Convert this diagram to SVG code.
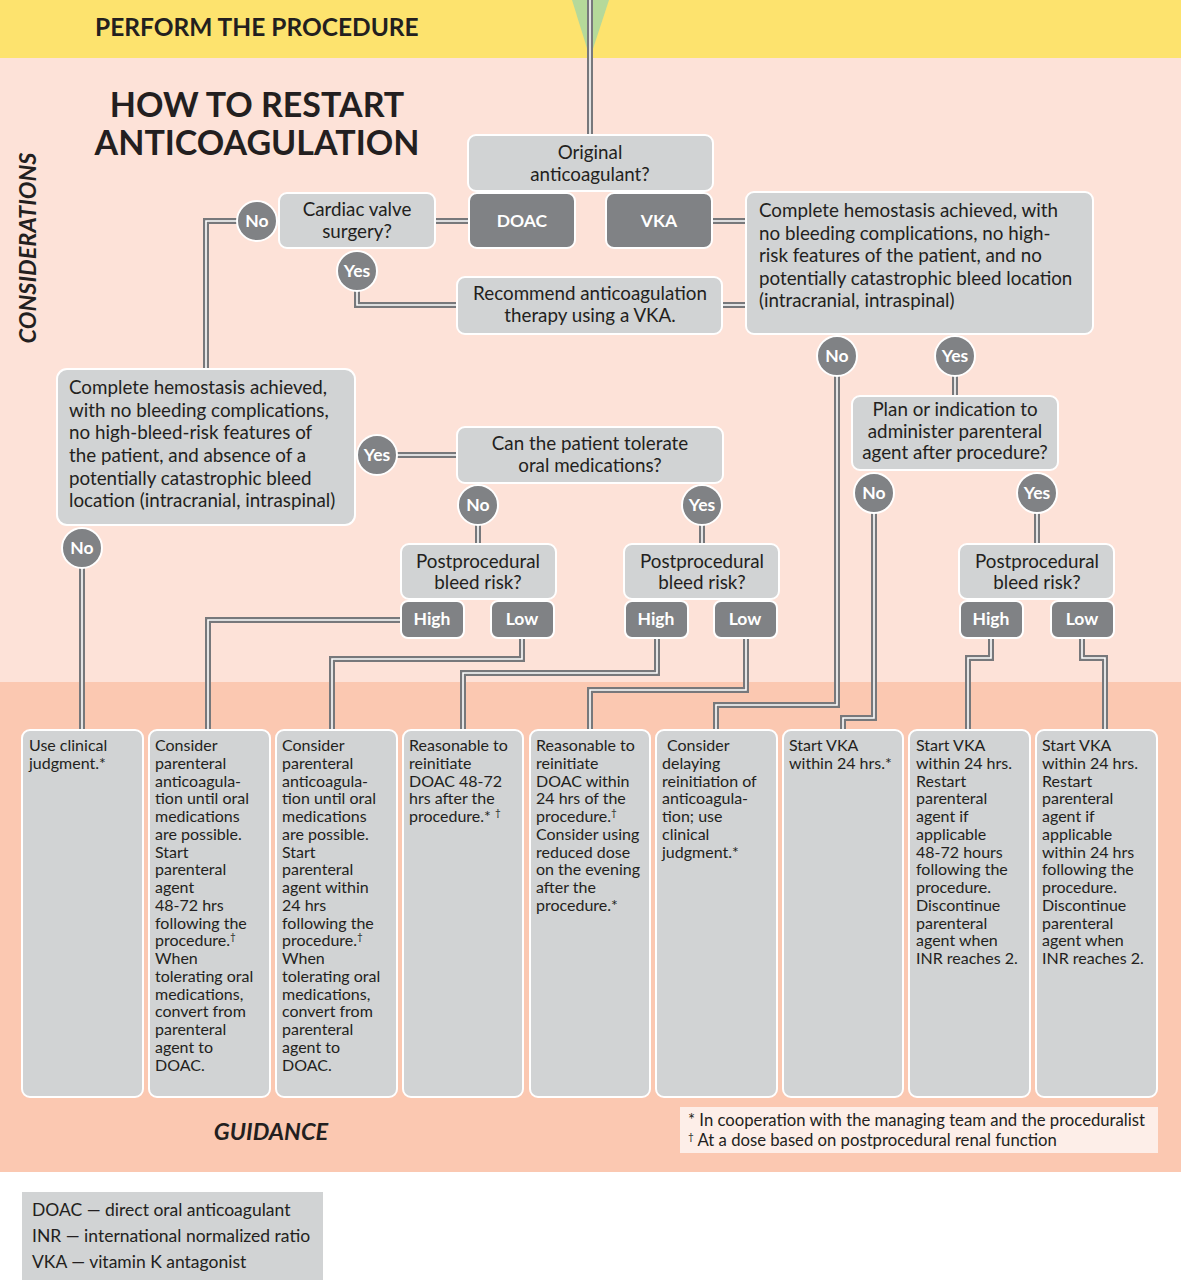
<svg xmlns="http://www.w3.org/2000/svg" xmlns:xlink="http://www.w3.org/1999/xlink" width="1181" height="1280" viewBox="0 0 1181 1280">
<style>
text{font-family:Lato,"Noto Sans","Liberation Sans",sans-serif;fill:#231f20}
.box{fill:#d1d3d4;stroke:#fff;stroke-width:2}
.dbox{fill:#808285;stroke:#fff;stroke-width:2}
.circ{fill:#808285;stroke:#fff;stroke-width:2}
.q{font-size:18.8px;text-anchor:middle}
.ql{font-size:18.8px}
.w{fill:#fff;font-weight:bold;font-size:17.5px;text-anchor:middle}
.g{font-size:16px}
.f{font-size:16.7px}
.sup{font-size:10px}
.o{fill:none;stroke:#77787b;stroke-width:6}
.i{fill:none;stroke:#fff;stroke-width:1.6}
</style>
<defs>
<path id="p1" d="M590,0 V135"/>
<path id="p2" d="M435,221 H469"/>
<path id="p3" d="M712,221 H746"/>
<path id="p4" d="M237,221 H206 V369"/>
<path id="p5" d="M357,291 V305 H457"/>
<path id="p6" d="M722,305 H746"/>
<path id="p7" d="M397,455 H457"/>
<path id="p8" d="M82,568 V730"/>
<path id="p9" d="M478,525 V544"/>
<path id="p10" d="M702,525 V544"/>
<path id="p11" d="M401,620 H208 V730"/>
<path id="p12" d="M522,638 V659 H332 V730"/>
<path id="p13" d="M657,638 V673 H463 V730"/>
<path id="p14" d="M746,638 V690 H590 V730"/>
<path id="p15" d="M837,376 V705 H716 V730"/>
<path id="p16" d="M955,376 V396"/>
<path id="p17" d="M874,513 V718 H843 V730"/>
<path id="p18" d="M1037,513 V544"/>
<path id="p19" d="M991,638 V658 H968 V730"/>
<path id="p20" d="M1082,638 V658 H1105 V730"/>
</defs>
<!-- backgrounds -->
<rect x="0" y="0" width="1181" height="1280" fill="#fff"/>
<rect x="0" y="0" width="1181" height="58" fill="#fde36e"/>
<rect x="0" y="58" width="1181" height="624" fill="#fde2d8"/>
<rect x="0" y="682" width="1181" height="490" fill="#fbc8b1"/>
<polygon points="572,0 609,0 590,58" fill="#b5d99a"/>
<text x="95" y="36" font-size="24.5" font-weight="bold">PERFORM THE PROCEDURE</text>
<text x="257" y="117" font-size="34" font-weight="bold" text-anchor="middle">HOW TO RESTART</text>
<text x="257" y="155" font-size="34" font-weight="bold" text-anchor="middle">ANTICOAGULATION</text>
<text transform="translate(36,248) rotate(-90)" font-size="23.5" font-weight="bold" font-style="italic" text-anchor="middle">CONSIDERATIONS</text>
<text x="271" y="1140" font-size="23.5" font-weight="bold" font-style="italic" text-anchor="middle">GUIDANCE</text>

<g id="connectors">
<use xlink:href="#p1" class="o"/><use xlink:href="#p1" class="i"/>
<use xlink:href="#p2" class="o"/><use xlink:href="#p2" class="i"/>
<use xlink:href="#p3" class="o"/><use xlink:href="#p3" class="i"/>
<use xlink:href="#p4" class="o"/><use xlink:href="#p4" class="i"/>
<use xlink:href="#p5" class="o"/><use xlink:href="#p5" class="i"/>
<use xlink:href="#p6" class="o"/><use xlink:href="#p6" class="i"/>
<use xlink:href="#p7" class="o"/><use xlink:href="#p7" class="i"/>
<use xlink:href="#p8" class="o"/><use xlink:href="#p8" class="i"/>
<use xlink:href="#p9" class="o"/><use xlink:href="#p9" class="i"/>
<use xlink:href="#p10" class="o"/><use xlink:href="#p10" class="i"/>
<use xlink:href="#p11" class="o"/><use xlink:href="#p11" class="i"/>
<use xlink:href="#p12" class="o"/><use xlink:href="#p12" class="i"/>
<use xlink:href="#p13" class="o"/><use xlink:href="#p13" class="i"/>
<use xlink:href="#p14" class="o"/><use xlink:href="#p14" class="i"/>
<use xlink:href="#p15" class="o"/><use xlink:href="#p15" class="i"/>
<use xlink:href="#p16" class="o"/><use xlink:href="#p16" class="i"/>
<use xlink:href="#p17" class="o"/><use xlink:href="#p17" class="i"/>
<use xlink:href="#p18" class="o"/><use xlink:href="#p18" class="i"/>
<use xlink:href="#p19" class="o"/><use xlink:href="#p19" class="i"/>
<use xlink:href="#p20" class="o"/><use xlink:href="#p20" class="i"/>
</g>

<g id="n-original"><rect class="box" x="468" y="135" width="245" height="56" rx="8"/>
<text class="q"><tspan x="590" y="159">Original</tspan><tspan x="590" y="181">anticoagulant?</tspan></text></g>
<g id="n-doac"><rect class="dbox" x="469" y="193" width="106" height="55" rx="8"/><text class="w" x="522" y="227">DOAC</text></g>
<g id="n-vka"><rect class="dbox" x="606" y="193" width="106" height="55" rx="8"/><text class="w" x="659" y="227">VKA</text></g>
<g id="n-cardiac"><rect class="box" x="279" y="193" width="156" height="55" rx="8"/>
<text class="q"><tspan x="357" y="216">Cardiac valve</tspan><tspan x="357" y="238">surgery?</tspan></text></g>
<g id="c-cardiac-no"><circle class="circ" cx="257" cy="221" r="20"/><text class="w" x="257" y="227">No</text></g>
<g id="c-cardiac-yes"><circle class="circ" cx="357" cy="271" r="20"/><text class="w" x="357" y="277">Yes</text></g>
<g id="n-recommend"><rect class="box" x="457" y="277" width="265" height="57" rx="8"/>
<text class="q"><tspan x="590" y="300">Recommend anticoagulation</tspan><tspan x="590" y="322">therapy using a VKA.</tspan></text></g>
<g id="n-hemo-right"><rect class="box" x="746" y="192" width="347" height="142" rx="8"/>
<text class="ql"><tspan x="759" y="217">Complete hemostasis achieved, with</tspan><tspan x="759" y="240">no bleeding complications, no high-</tspan><tspan x="759" y="262">risk features of the patient, and no</tspan><tspan x="759" y="285">potentially catastrophic bleed location</tspan><tspan x="759" y="307">(intracranial, intraspinal)</tspan></text></g>
<g id="c-hr-no"><circle class="circ" cx="837" cy="356" r="20"/><text class="w" x="837" y="362">No</text></g>
<g id="c-hr-yes"><circle class="circ" cx="955" cy="356" r="20"/><text class="w" x="955" y="362">Yes</text></g>
<g id="n-plan"><rect class="box" x="852" y="396" width="206" height="74" rx="8"/>
<text class="q"><tspan x="955" y="416">Plan or indication to</tspan><tspan x="955" y="438">administer parenteral</tspan><tspan x="955" y="459">agent after procedure?</tspan></text></g>
<g id="c-plan-no"><circle class="circ" cx="874" cy="493" r="20"/><text class="w" x="874" y="499">No</text></g>
<g id="c-plan-yes"><circle class="circ" cx="1037" cy="493" r="20"/><text class="w" x="1037" y="499">Yes</text></g>
<g id="n-bleed-right"><rect class="box" x="959" y="544" width="155" height="55" rx="8"/>
<text class="q"><tspan x="1037" y="568">Postprocedural</tspan><tspan x="1037" y="589">bleed risk?</tspan></text></g>
<g id="n-high-right"><rect class="dbox" x="960" y="601" width="63" height="37" rx="7"/><text class="w" x="991" y="625">High</text></g>
<g id="n-low-right"><rect class="dbox" x="1051" y="601" width="63" height="37" rx="7"/><text class="w" x="1082" y="625">Low</text></g>

<g id="n-hemo-left"><rect class="box" x="57" y="369" width="298" height="156" rx="10"/>
<text class="ql"><tspan x="69" y="394">Complete hemostasis achieved,</tspan><tspan x="69" y="417">with no bleeding complications,</tspan><tspan x="69" y="439">no high-bleed-risk features of</tspan><tspan x="69" y="462">the patient, and absence of a</tspan><tspan x="69" y="485">potentially catastrophic bleed</tspan><tspan x="69" y="507">location (intracranial, intraspinal)</tspan></text></g>
<g id="c-hl-yes"><circle class="circ" cx="377" cy="455" r="20"/><text class="w" x="377" y="461">Yes</text></g>
<g id="c-hl-no"><circle class="circ" cx="82" cy="548" r="20"/><text class="w" x="82" y="554">No</text></g>
<g id="n-oral"><rect class="box" x="457" y="427" width="266" height="56" rx="8"/>
<text class="q"><tspan x="590" y="450">Can the patient tolerate</tspan><tspan x="590" y="472">oral medications?</tspan></text></g>
<g id="c-oral-no"><circle class="circ" cx="478" cy="505" r="20"/><text class="w" x="478" y="511">No</text></g>
<g id="c-oral-yes"><circle class="circ" cx="702" cy="505" r="20"/><text class="w" x="702" y="511">Yes</text></g>
<g id="n-bleed-left"><rect class="box" x="401" y="544" width="155" height="55" rx="8"/>
<text class="q"><tspan x="478" y="568">Postprocedural</tspan><tspan x="478" y="589">bleed risk?</tspan></text></g>
<g id="n-high-left"><rect class="dbox" x="401" y="601" width="63" height="37" rx="7"/><text class="w" x="432" y="625">High</text></g>
<g id="n-low-left"><rect class="dbox" x="491" y="601" width="63" height="37" rx="7"/><text class="w" x="522" y="625">Low</text></g>
<g id="n-bleed-mid"><rect class="box" x="624" y="544" width="155" height="55" rx="8"/>
<text class="q"><tspan x="702" y="568">Postprocedural</tspan><tspan x="702" y="589">bleed risk?</tspan></text></g>
<g id="n-high-mid"><rect class="dbox" x="625" y="601" width="63" height="37" rx="7"/><text class="w" x="656" y="625">High</text></g>
<g id="n-low-mid"><rect class="dbox" x="714" y="601" width="63" height="37" rx="7"/><text class="w" x="745" y="625">Low</text></g>

<g id="g1"><rect class="box" x="22" y="730" width="121" height="367" rx="8"/>
<text class="g"><tspan x="29" y="751">Use clinical</tspan><tspan x="29" y="769">judgment.*</tspan></text></g>
<g id="g2"><rect class="box" x="149" y="730" width="121" height="367" rx="8"/>
<text class="g"><tspan x="155" y="751">Consider</tspan><tspan x="155" y="769">parenteral</tspan><tspan x="155" y="787">anticoagula-</tspan><tspan x="155" y="804">tion until oral</tspan><tspan x="155" y="822">medications</tspan><tspan x="155" y="840">are possible.</tspan><tspan x="155" y="858">Start</tspan><tspan x="155" y="875">parenteral</tspan><tspan x="155" y="893">agent</tspan><tspan x="155" y="911">48-72 hrs</tspan><tspan x="155" y="929">following the</tspan><tspan x="155" y="946">procedure.</tspan><tspan class="sup" dy="-6">†</tspan><tspan x="155" y="964">When</tspan><tspan x="155" y="982">tolerating oral</tspan><tspan x="155" y="1000">medications,</tspan><tspan x="155" y="1017">convert from</tspan><tspan x="155" y="1035">parenteral</tspan><tspan x="155" y="1053">agent to</tspan><tspan x="155" y="1071">DOAC.</tspan></text></g>
<g id="g3"><rect class="box" x="276" y="730" width="121" height="367" rx="8"/>
<text class="g"><tspan x="282" y="751">Consider</tspan><tspan x="282" y="769">parenteral</tspan><tspan x="282" y="787">anticoagula-</tspan><tspan x="282" y="804">tion until oral</tspan><tspan x="282" y="822">medications</tspan><tspan x="282" y="840">are possible.</tspan><tspan x="282" y="858">Start</tspan><tspan x="282" y="875">parenteral</tspan><tspan x="282" y="893">agent within</tspan><tspan x="282" y="911">24 hrs</tspan><tspan x="282" y="929">following the</tspan><tspan x="282" y="946">procedure.</tspan><tspan class="sup" dy="-6">†</tspan><tspan x="282" y="964">When</tspan><tspan x="282" y="982">tolerating oral</tspan><tspan x="282" y="1000">medications,</tspan><tspan x="282" y="1017">convert from</tspan><tspan x="282" y="1035">parenteral</tspan><tspan x="282" y="1053">agent to</tspan><tspan x="282" y="1071">DOAC.</tspan></text></g>
<g id="g4"><rect class="box" x="403" y="730" width="120" height="367" rx="8"/>
<text class="g"><tspan x="409" y="751">Reasonable to</tspan><tspan x="409" y="769">reinitiate</tspan><tspan x="409" y="787">DOAC 48-72</tspan><tspan x="409" y="804">hrs after the</tspan><tspan x="409" y="822">procedure.* </tspan><tspan class="sup" dy="-6">†</tspan></text></g>
<g id="g5"><rect class="box" x="530" y="730" width="120" height="367" rx="8"/>
<text class="g"><tspan x="536" y="751">Reasonable to</tspan><tspan x="536" y="769">reinitiate</tspan><tspan x="536" y="787">DOAC within</tspan><tspan x="536" y="804">24 hrs of the</tspan><tspan x="536" y="822">procedure.</tspan><tspan class="sup" dy="-6">†</tspan><tspan x="536" y="840">Consider using</tspan><tspan x="536" y="858">reduced dose</tspan><tspan x="536" y="875">on the evening</tspan><tspan x="536" y="893">after the</tspan><tspan x="536" y="911">procedure.*</tspan></text></g>
<g id="g6"><rect class="box" x="656" y="730" width="121" height="367" rx="8"/>
<text class="g"><tspan x="667" y="751">Consider</tspan><tspan x="662" y="769">delaying</tspan><tspan x="662" y="787">reinitiation of</tspan><tspan x="662" y="804">anticoagula-</tspan><tspan x="662" y="822">tion; use</tspan><tspan x="662" y="840">clinical</tspan><tspan x="662" y="858">judgment.*</tspan></text></g>
<g id="g7"><rect class="box" x="783" y="730" width="120" height="367" rx="8"/>
<text class="g"><tspan x="789" y="751">Start VKA</tspan><tspan x="789" y="769">within 24 hrs.*</tspan></text></g>
<g id="g8"><rect class="box" x="909" y="730" width="121" height="367" rx="8"/>
<text class="g"><tspan x="916" y="751">Start VKA</tspan><tspan x="916" y="769">within 24 hrs.</tspan><tspan x="916" y="787">Restart</tspan><tspan x="916" y="804">parenteral</tspan><tspan x="916" y="822">agent if</tspan><tspan x="916" y="840">applicable</tspan><tspan x="916" y="858">48-72 hours</tspan><tspan x="916" y="875">following the</tspan><tspan x="916" y="893">procedure.</tspan><tspan x="916" y="911">Discontinue</tspan><tspan x="916" y="929">parenteral</tspan><tspan x="916" y="946">agent when</tspan><tspan x="916" y="964">INR reaches 2.</tspan></text></g>
<g id="g9"><rect class="box" x="1036" y="730" width="121" height="367" rx="8"/>
<text class="g"><tspan x="1042" y="751">Start VKA</tspan><tspan x="1042" y="769">within 24 hrs.</tspan><tspan x="1042" y="787">Restart</tspan><tspan x="1042" y="804">parenteral</tspan><tspan x="1042" y="822">agent if</tspan><tspan x="1042" y="840">applicable</tspan><tspan x="1042" y="858">within 24 hrs</tspan><tspan x="1042" y="875">following the</tspan><tspan x="1042" y="893">procedure.</tspan><tspan x="1042" y="911">Discontinue</tspan><tspan x="1042" y="929">parenteral</tspan><tspan x="1042" y="946">agent when</tspan><tspan x="1042" y="964">INR reaches 2.</tspan></text></g>

<g id="footnotes"><rect x="680" y="1107" width="478" height="46" fill="#fdeee8"/>
<text class="f"><tspan x="688" y="1126">* In cooperation with the managing team and the proceduralist</tspan><tspan x="688" y="1146"><tspan class="sup" dy="-6">†</tspan><tspan dy="6"> At a dose based on postprocedural renal function</tspan></tspan></text></g>
<g id="legend"><rect x="22" y="1192" width="301" height="88" fill="#d1d3d4"/>
<text font-size="17.5"><tspan x="32" y="1216">DOAC — direct oral anticoagulant</tspan><tspan x="32" y="1242">INR — international normalized ratio</tspan><tspan x="32" y="1268">VKA — vitamin K antagonist</tspan></text></g>
</svg>
